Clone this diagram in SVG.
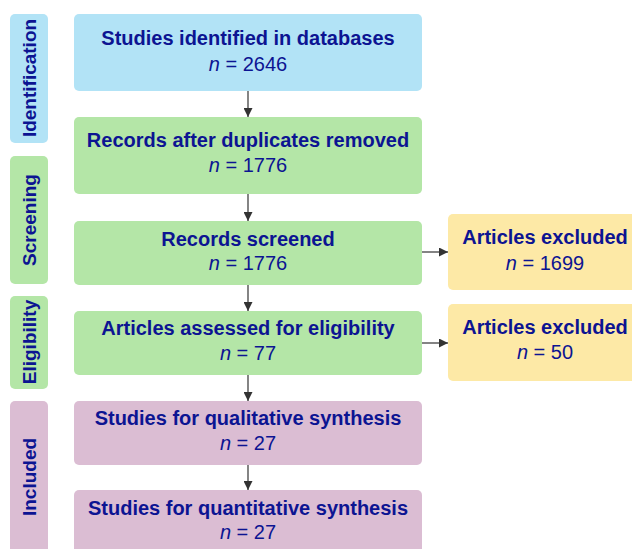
<svg xmlns="http://www.w3.org/2000/svg" width="632" height="549" viewBox="0 0 632 549">
  <defs>
    <marker id="arrow" viewBox="0 0 10 10" refX="10" refY="5" markerWidth="9" markerHeight="9" markerUnits="userSpaceOnUse" orient="auto">
      <path d="M0,0 L10,5 L0,10 z" fill="#333"/>
    </marker>
  </defs>
  <style>
    .blue { fill: #b2e3f6; }
    .green { fill: #b4e6a7; }
    .yellow { fill: #fde9a6; }
    .pink { fill: #dbbdd3; }
    .title { font-family: "Liberation Sans", Arial, sans-serif; font-weight: bold; font-size: 20px; fill: #0c1492; text-anchor: middle; }
    .count { font-family: "Liberation Sans", Arial, sans-serif; font-size: 20px; fill: #0c1492; text-anchor: middle; }
    .side { font-family: "Liberation Sans", Arial, sans-serif; font-weight: bold; font-size: 19px; fill: #0c1492; text-anchor: middle; }
    .conn { stroke: #333; stroke-width: 1.2; fill: none; marker-end: url(#arrow); }
  </style>
  <rect width="632" height="549" fill="#ffffff"/>

  <!-- phase bars -->
  <g id="phase-identification">
    <rect class="blue" x="10" y="14" width="38" height="129" rx="5"/>
    <text class="side" transform="translate(36,78) rotate(-90)">Identification</text>
  </g>
  <g id="phase-screening">
    <rect class="green" x="10" y="156" width="38" height="128" rx="5"/>
    <text class="side" transform="translate(36,220) rotate(-90)">Screening</text>
  </g>
  <g id="phase-eligibility">
    <rect class="green" x="10" y="296" width="38" height="93" rx="5"/>
    <text class="side" transform="translate(36,342) rotate(-90)">Eligibility</text>
  </g>
  <g id="phase-included">
    <rect class="pink" x="10" y="401" width="38" height="160" rx="5"/>
    <text class="side" transform="translate(36,477) rotate(-90)">Included</text>
  </g>

  <!-- flow boxes -->
  <g id="identified">
    <rect class="blue" x="74" y="14" width="348" height="77" rx="5"/>
    <text class="title" x="248" y="45">Studies identified in databases</text>
    <text class="count" x="248" y="71"><tspan font-style="italic">n</tspan> = 2646</text>
  </g>
  <g id="deduplicated">
    <rect class="green" x="74" y="117" width="348" height="77" rx="5"/>
    <text class="title" x="248" y="147">Records after duplicates removed</text>
    <text class="count" x="248" y="172"><tspan font-style="italic">n</tspan> = 1776</text>
  </g>
  <g id="screened">
    <rect class="green" x="74" y="221" width="348" height="64" rx="5"/>
    <text class="title" x="248" y="246">Records screened</text>
    <text class="count" x="248" y="270"><tspan font-style="italic">n</tspan> = 1776</text>
  </g>
  <g id="excluded-screening">
    <rect class="yellow" x="448" y="214" width="194" height="76" rx="5"/>
    <text class="title" x="545" y="244">Articles excluded</text>
    <text class="count" x="545" y="270"><tspan font-style="italic">n</tspan> = 1699</text>
  </g>
  <g id="eligibility">
    <rect class="green" x="74" y="311" width="348" height="64" rx="5"/>
    <text class="title" x="248" y="335">Articles assessed for eligibility</text>
    <text class="count" x="248" y="360"><tspan font-style="italic">n</tspan> = 77</text>
  </g>
  <g id="excluded-eligibility">
    <rect class="yellow" x="448" y="304" width="194" height="77" rx="5"/>
    <text class="title" x="545" y="334">Articles excluded</text>
    <text class="count" x="545" y="359"><tspan font-style="italic">n</tspan> = 50</text>
  </g>
  <g id="qualitative">
    <rect class="pink" x="74" y="401" width="348" height="64" rx="5"/>
    <text class="title" x="248" y="425">Studies for qualitative synthesis</text>
    <text class="count" x="248" y="450"><tspan font-style="italic">n</tspan> = 27</text>
  </g>
  <g id="quantitative">
    <rect class="pink" x="74" y="490" width="348" height="70" rx="5"/>
    <text class="title" x="248" y="515">Studies for quantitative synthesis</text>
    <text class="count" x="248" y="539"><tspan font-style="italic">n</tspan> = 27</text>
  </g>

  <!-- connectors -->
  <g id="connectors">
    <line class="conn" x1="248" y1="91" x2="248" y2="117"/>
    <line class="conn" x1="248" y1="194" x2="248" y2="221"/>
    <line class="conn" x1="248" y1="285" x2="248" y2="311"/>
    <line class="conn" x1="248" y1="375" x2="248" y2="401"/>
    <line class="conn" x1="248" y1="465" x2="248" y2="490"/>
    <line class="conn" x1="422" y1="252" x2="448" y2="252"/>
    <line class="conn" x1="422" y1="343" x2="448" y2="343"/>
  </g>
</svg>
